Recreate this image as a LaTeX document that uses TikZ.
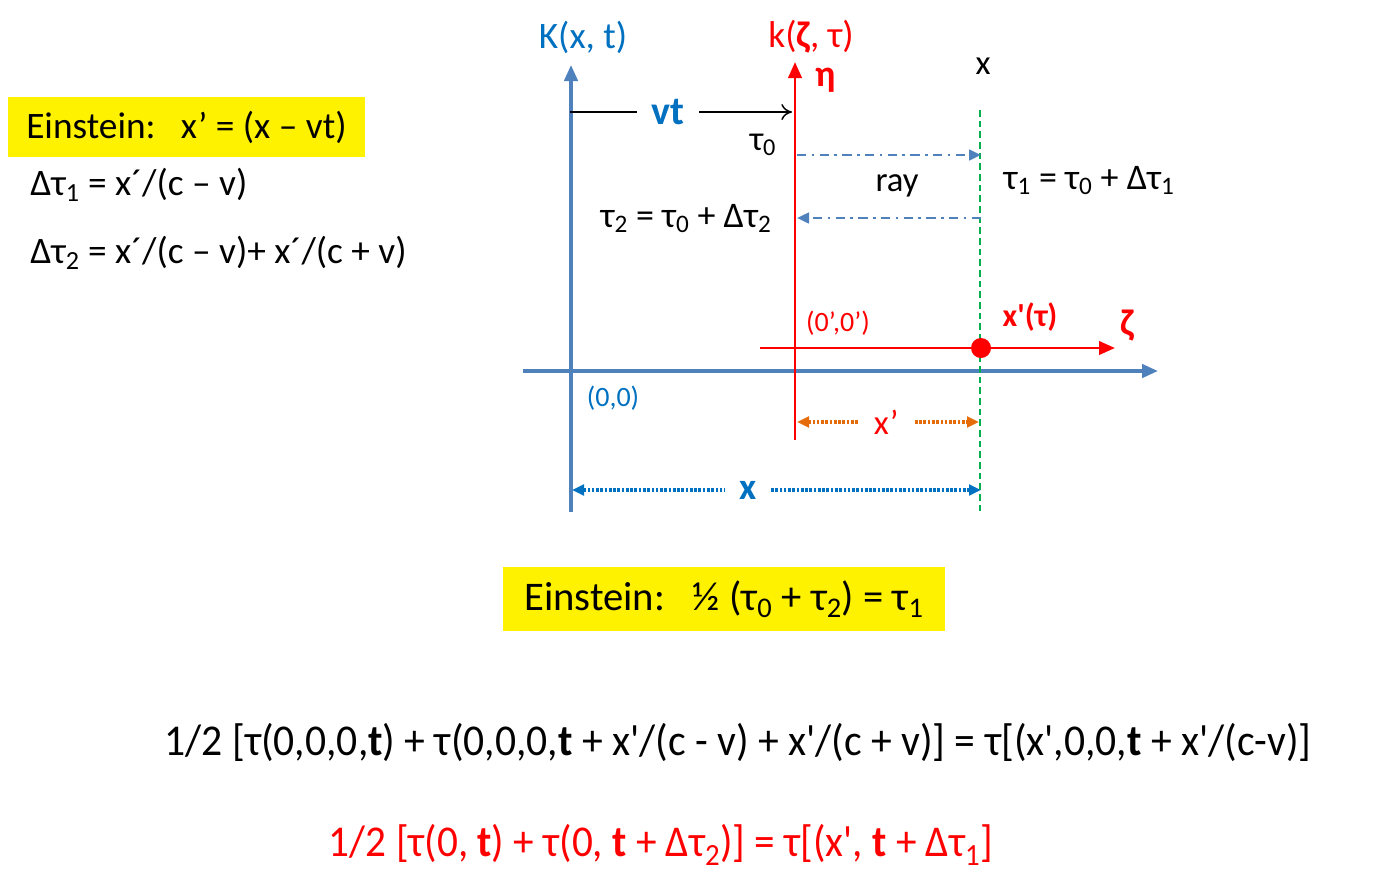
\documentclass[tikz,border=0pt]{standalone}
\usepackage{fontspec}
\setmainfont{Carlito}
\usetikzlibrary{arrows.meta}
\definecolor{axisblue}{HTML}{4F81BD}
\definecolor{textblue}{HTML}{0070C0}
\definecolor{markgreen}{HTML}{00B050}
\definecolor{dimorange}{HTML}{E46C0A}
\newcommand{\sq}{\textquotesingle}
\newcommand{\sub}[1]{\textsubscript{#1}}
\begin{document}
\begin{tikzpicture}[x=0.75pt,y=-0.75pt,
    big/.style={font=\fontsize{28}{32}\selectfont},
    mid/.style={font=\fontsize{26}{30}\selectfont},
    small/.style={font=\fontsize{21}{25}\selectfont},
    yellowbox/.style={fill=yellow,inner sep=0pt},
    blueaxis/.style={axisblue,line width=2.6pt,-{Triangle[length=12pt,width=10pt]}},
    redaxis/.style={red,line width=2.2pt,-{Triangle[length=12pt,width=10pt]}},
    ray/.style={axisblue,line width=1.9pt,dash pattern=on 7pt off 4pt on 2pt off 4pt,
      -{Triangle[length=9pt,width=8pt]}},
    dim/.style={line width=2.6pt,dash pattern=on 2pt off 1.2pt,
      {Triangle[length=9pt,width=8pt]}-{Triangle[length=9pt,width=8pt]}},
    gap/.style={fill=white,inner xsep=11pt,inner ysep=3pt}]
  \useasboundingbox (0,0) rectangle (1376,894);
  % axes
  \coordinate (Kb) at (571,512);
  \coordinate (Kt) at (571,65);
  \coordinate (Xl) at (523,371);
  \coordinate (Xr) at (1158,371);
  \coordinate (kb) at (795,440);
  \coordinate (kt) at (795,62);
  \coordinate (zl) at (760,348);
  \coordinate (zr) at (1115,348);
  \coordinate (gt) at (980,110);
  \coordinate (gb) at (980,513);
  \draw[blueaxis] (Kb) -- (Kt);
  \draw[blueaxis] (Xl) -- (Xr);
  \draw[markgreen,line width=1.1pt,dash pattern=on 5pt off 3pt] (gt) -- (gb);
  \draw[redaxis] (kb) -- (kt);
  \draw[redaxis] (zl) -- (zr);
  \node[circle,fill=red,inner sep=0pt,minimum size=15pt] (dot) at (981,348) {};
  % axis labels
  \draw
    (583,37) node[big,textblue] (K) {K(x, t)}
    (811,37) node[big,red] (k) {k(\textbf{ζ}, τ)}
    (826,80) node[red,font=\fontsize{28}{32}\selectfont\bfseries] (eta) {η}
    (1127,326) node[red,font=\fontsize{28}{32}\selectfont\bfseries] (zeta) {ζ}
    (1030,317) node[red,font=\fontsize{24}{28}\selectfont\bfseries] (xt) {x\sq(τ)}
    (838,323) node[small,red] (o1) {(0’,0’)}
    (613,398) node[small,textblue] (o) {(0,0)}
    (983,66) node[mid] (xtop) {x}
    (763,145) node[mid] (t0) {τ\sub{0}}
    (897,186) node[mid] (raylbl) {ray}
    (1089,181) node[font=\fontsize{27}{31}\selectfont] (t1) {τ\sub{1} = τ\sub{0} + Δτ\sub{1}}
    (686,219) node[font=\fontsize{27}{31}\selectfont] (t2) {τ\sub{2} = τ\sub{0} + Δτ\sub{2}};
  % vt, rays and distances
  \coordinate (vl) at (570,112);
  \coordinate (vr) at (792,112);
  \draw[line width=1.1pt,-{To[length=8pt,width=12pt]}] (vl) -- node[gap,pos=0.44,
    text=textblue,font=\fontsize{30}{34}\selectfont\bfseries] (vt) {vt} (vr);
  \coordinate (r1l) at (797,155);
  \coordinate (r1r) at (981,155);
  \coordinate (r2l) at (797,218);
  \coordinate (r2r) at (981,218);
  \draw[ray] (r1l) -- (r1r);
  \draw[ray] (r2r) -- (r2l);
  \coordinate (dl) at (797,422);
  \coordinate (dr) at (979,422);
  \draw[dim,dimorange] (dl) -- node[gap,pos=0.49,text=red,
    font=\fontsize{26}{30}\selectfont] (xp) {x’} (dr);
  \coordinate (Dl) at (572,490);
  \coordinate (Dr) at (981,490);
  \draw[dim,textblue] (Dl) -- node[gap,pos=0.43,
    font=\fontsize{28}{32}\selectfont\bfseries] (xx) {x} (Dr);
  % left formulas
  \node[yellowbox,big,minimum width=268pt,minimum height=45pt] (e1) at (186.5,127)
    {Einstein:\ \ \ x’ = (x – vt)};
  \node[big,anchor=west,inner sep=0pt] (d1) at (30,185) {Δτ\sub{1} = x´/(c – v)};
  \node[big,anchor=west,inner sep=0pt] (d2) at (30,253) {Δτ\sub{2} = x´/(c – v)+ x´/(c + v)};
  % bottom formulas
  \node[yellowbox,font=\fontsize{30.5}{35}\selectfont,minimum width=331.5pt,minimum height=48pt] (e2) at (724,599)
    {Einstein:\ \ \ ½ (τ\sub{0} + τ\sub{2}) = τ\sub{1}};
  \node[inner sep=0pt,font=\fontsize{33}{38}\selectfont] (eq1) at (738,742)
    {\resizebox{860pt}{\height}{1/2 [τ(0,0,0,\textbf{t}) + τ(0,0,0,\textbf{t} + x\sq/(c - v) + x\sq/(c + v)] = τ[(x\sq,0,0,\textbf{t} + x\sq/(c-v)]}};
  \node[inner sep=0pt,red,font=\fontsize{33}{38}\selectfont] (eq2) at (661,845)
    {\resizebox{498pt}{\height}{1/2 [τ(0, \textbf{t}) + τ(0, \textbf{t} + Δτ\sub{2})] = τ[(x\sq, \textbf{t} + Δτ\sub{1}]}};
\end{tikzpicture}
\end{document}
